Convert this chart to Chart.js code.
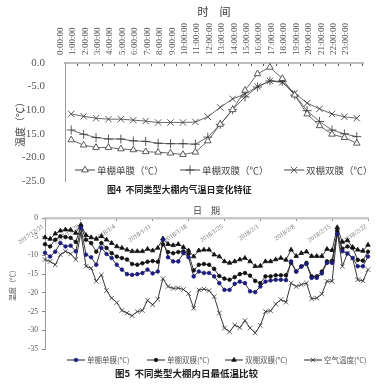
<!DOCTYPE html>
<html>
<head>
<meta charset="utf-8">
<script src="https://cdn.jsdelivr.net/npm/chart.js@4.4.1/dist/chart.umd.min.js"></script>
<style>
  body { margin: 0; background: #fff; }
  #wrap { position: relative; width: 377px; height: 392px; }
  canvas { position: absolute; left: 0; }
  .cap { position: absolute; font-family: 'Noto Sans CJK SC', sans-serif; font-weight: bold; color: #222; white-space: nowrap; line-height: 1; }
</style>
</head>
<body>
<div id="wrap">
  <canvas id="hourChart" width="377" height="200" style="top:0"></canvas>
  <canvas id="dayChart" width="377" height="192" style="top:200px"></canvas>
  <div class="cap" style="left:107px;top:185px;font-size:9px">图4&nbsp;&nbsp;不同类型大棚内气温日变化特征</div>
  <div class="cap" style="left:115px;top:369px;font-size:9.5px">图5&nbsp;&nbsp;不同类型大棚内日最低温比较</div>
</div>
<script>
// fig 4: hourly air temperature inside the greenhouses
const hours = ['0:00:00', '1:00:00', '2:00:00', '3:00:00', '4:00:00', '5:00:00', '6:00:00', '7:00:00',
  '8:00:00', '9:00:00', '10:00:00', '11:00:00', '12:00:00', '13:00:00', '14:00:00', '15:00:00',
  '16:00:00', '17:00:00', '18:00:00', '19:00:00', '20:00:00', '21:00:00', '22:00:00', '23:00:00'];
const singleSingleHour = [-16.3, -17.4, -17.9, -17.9, -18.2, -18.4, -18.8, -18.9, -19.1, -19.4, -18.9, -16.5,
  -13.0, -9.9, -5.8, -2.3, -0.9, -3.3, -6.8, -10.8, -13.3, -15.1, -15.8, -17.0];
const singleDoubleHour = [-14.2, -15.1, -15.8, -16.1, -16.1, -16.5, -16.6, -17.0, -17.1, -17.1, -17.2, -15.7,
  -13.0, -9.9, -7.2, -5.1, -3.8, -3.9, -6.8, -10.1, -12.4, -14.2, -15.0, -15.6];
const doubleDoubleHour = [-10.8, -11.3, -11.7, -11.9, -11.9, -12.1, -12.3, -12.6, -12.6, -12.6, -12.5, -11.4,
  -9.4, -7.6, -6.6, -5.0, -3.8, -4.1, -6.4, -8.5, -9.7, -10.8, -11.4, -11.7];

// fig 5: daily minimum temperature, 2017/12/21 .. 2018/2/22
const dateTicks = ['2017/12/21', '2017/12/28', '2018/1/4', '2018/1/11', '2018/1/18',
  '2018/1/25', '2018/2/1', '2018/2/8', '2018/2/15', '2018/2/22'];
const singleSingleDay = [-9.3, -10.3, -9.0, -6.7, -7.6, -7.4, -8.9, -2.7, -9.8, -10.5,
  -12.5, -8.0, -9.6, -10.7, -12.5, -13.8, -15.0, -15.2, -15.0, -14.7,
  -13.8, -14.8, -14.3, -5.8, -10.5, -11.6, -11.6, -9.4, -10.5, -15.6,
  -14.3, -14.7, -14.7, -15.6, -17.4, -19.2, -19.2, -17.6, -17.0, -17.4,
  -19.6, -19.8, -18.3, -17.0, -16.7, -16.5, -16.5, -16.6, -11.6, -14.3,
  -13.0, -12.3, -16.0, -16.0, -14.8, -12.0, -12.0, -4.3, -8.9, -9.5,
  -10.7, -12.9, -12.9, -10.3];
const singleDoubleDay = [-7.0, -7.6, -5.8, -4.9, -5.1, -5.3, -6.4, -2.2, -5.8, -6.7,
  -9.0, -6.7, -8.0, -9.4, -10.3, -10.7, -11.1, -12.3, -12.5, -12.1,
  -11.7, -11.5, -11.7, -7.0, -9.1, -9.4, -9.1, -8.9, -9.6, -14.0,
  -12.5, -12.3, -12.5, -13.6, -15.5, -16.2, -16.5, -15.8, -15.0, -14.7,
  -15.4, -16.8, -17.4, -15.6, -15.6, -15.3, -15.3, -15.3, -12.0, -14.3,
  -12.9, -12.0, -15.6, -15.6, -14.3, -11.6, -11.4, -3.5, -8.2, -7.6,
  -8.0, -11.2, -11.4, -9.0];
const doubleDoubleDay = [-5.2, -5.6, -4.2, -3.4, -3.1, -3.2, -4.0, -1.8, -4.6, -5.2,
  -5.6, -4.9, -5.8, -6.7, -7.6, -8.0, -8.5, -8.9, -8.9, -8.9,
  -8.3, -8.7, -8.0, -5.5, -7.0, -7.3, -7.0, -7.8, -8.7, -10.3,
  -8.7, -8.5, -8.5, -9.8, -10.3, -11.6, -12.0, -11.6, -11.1, -10.7,
  -11.6, -12.9, -12.8, -11.6, -11.6, -11.1, -10.7, -11.2, -8.5, -10.2,
  -9.4, -9.0, -10.2, -10.2, -10.2, -8.3, -8.6, -2.5, -6.4, -6.0,
  -7.8, -8.5, -8.8, -7.2];
const airDay = [-11.1, -11.6, -12.5, -9.8, -8.9, -9.6, -11.1, -4.0, -12.9, -13.4,
  -16.9, -15.2, -19.4, -21.4, -22.6, -24.7, -25.4, -26.1, -25.0, -24.7,
  -22.0, -23.2, -21.7, -16.2, -18.3, -18.8, -18.7, -19.1, -20.2, -24.1,
  -19.2, -19.0, -19.4, -21.0, -25.4, -29.4, -30.4, -28.6, -29.3, -27.4,
  -29.4, -30.7, -28.7, -25.0, -24.8, -23.0, -21.8, -22.5, -17.4, -18.3,
  -17.8, -17.4, -21.6, -21.4, -20.3, -16.9, -16.9, -3.6, -12.9, -9.4,
  -10.7, -16.5, -16.8, -13.8];

const dayLabels = [];
for (let d = new Date(2017, 11, 21); dayLabels.length < airDay.length; d.setDate(d.getDate() + 1)) {
  dayLabels.push(d.getFullYear() + '/' + (d.getMonth() + 1) + '/' + d.getDate());
}

const serif = "'Liberation Serif', 'Noto Sans CJK SC', serif";
const cjk = "'Noto Sans CJK SC', sans-serif";

// legend drawn inside the chart area, like the original figures
const inLegend = {
  id: 'inLegend',
  afterDraw(chart, args, opts) {
    const ctx = chart.ctx;
    ctx.save();
    ctx.textBaseline = 'middle';
    chart.data.datasets.forEach((ds, i) => {
      const x = opts.xs[i], y = opts.y;
      ctx.strokeStyle = ds.borderColor;
      ctx.lineWidth = 1;
      ctx.beginPath();
      ctx.moveTo(x, y);
      ctx.lineTo(x + opts.lineLen, y);
      ctx.stroke();
      ctx.fillStyle = ds.pointBackgroundColor;
      ctx.strokeStyle = ds.pointBorderColor;
      ctx.lineWidth = ds.pointBorderWidth;
      Chart.helpers.drawPoint(ctx, { pointStyle: ds.pointStyle, radius: ds.pointRadius, rotation: 0, borderWidth: ds.pointBorderWidth },
        x + opts.lineLen / 2, y);
      ctx.font = opts.font;
      ctx.fillStyle = opts.color;
      ctx.fillText(ds.label, x + opts.lineLen + 2, y);
    });
    ctx.restore();
  }
};

// slanted date labels sitting under the top axis line
const dateLabels = {
  id: 'dateLabels',
  beforeDatasetsDraw(chart) {
    const ctx = chart.ctx, xs = chart.scales.x;
    ctx.save();
    ctx.font = '6.5px ' + serif;
    ctx.fillStyle = '#777';
    ctx.textAlign = 'right';
    ctx.textBaseline = 'middle';
    dateTicks.forEach(t => {
      const px = xs.getPixelForValue(dayLabels.indexOf(t));
      ctx.save();
      ctx.translate(px - 2, xs.bottom + 8);
      ctx.rotate(-35 * Math.PI / 180);
      ctx.fillText(t, 0, 0);
      ctx.restore();
    });
    ctx.restore();
  }
};

function hourSet(label, data, style, radius) {
  return {
    label: label, data: data, borderColor: '#444', borderWidth: 0.8, tension: 0, clip: false,
    pointStyle: style, pointRadius: radius, pointBackgroundColor: '#fff',
    pointBorderColor: '#333', pointBorderWidth: 0.8
  };
}

new Chart(document.getElementById('hourChart'), {
  type: 'line',
  data: {
    labels: hours,
    datasets: [
      hourSet('单棚单膜（℃）', singleSingleHour, 'triangle', 3.8),
      hourSet('单棚双膜（℃）', singleDoubleHour, 'cross', 4.5),
      hourSet('双棚双膜（℃）', doubleDoubleHour, 'crossRot', 4.5)
    ]
  },
  options: {
    responsive: false,
    animation: false,
    devicePixelRatio: 1,
    layout: { padding: { left: 0, right: 14, top: 0, bottom: 19 } },
    plugins: {
      legend: { display: false },
      tooltip: { enabled: false },
      inLegend: { y: 170, xs: [75, 180, 284], lineLen: 20, font: '9.5px ' + cjk, color: '#444' }
    },
    scales: {
      x: {
        type: 'category',
        position: 'top',
        offset: true,
        grid: { offset: true, drawOnChartArea: false, tickLength: -3, color: '#555' },
        border: { color: '#bbb', width: 2 },
        ticks: { autoSkip: false, minRotation: 90, maxRotation: 90, padding: 11, color: '#555', font: { size: 9, family: serif } },
        title: { display: true, text: '时　间', color: '#333', font: { size: 11, family: cjk }, padding: { top: 5, bottom: 0 } },
        afterFit: s => { s.height = 63; }
      },
      y: {
        min: -25,
        max: 0,
        grid: { display: false },
        border: { color: '#999', width: 1 },
        ticks: { stepSize: 5, padding: 12, color: '#555', font: { size: 11, family: serif }, callback: v => v.toFixed(1) },
        title: { display: true, text: '温度（℃）', color: '#444', font: { size: 10, family: cjk }, padding: { top: 14, bottom: 0 } },
        afterFit: s => { s.width = 65; }
      }
    }
  },
  plugins: [inLegend]
});

function daySet(label, data, style, radius, fill) {
  return {
    label: label, data: data, borderColor: '#222', borderWidth: 0.9, tension: 0, clip: false,
    pointStyle: style, pointRadius: radius, pointBackgroundColor: fill,
    pointBorderColor: fill, pointBorderWidth: 0.8
  };
}

new Chart(document.getElementById('dayChart'), {
  type: 'line',
  data: {
    labels: dayLabels,
    datasets: [
      daySet('单棚单膜(°C)', singleSingleDay, 'circle', 1.8, '#1c1c80'),
      daySet('单棚双膜(°C)', singleDoubleDay, 'circle', 1.8, '#111'),
      daySet('双棚双膜(°C)', doubleDoubleDay, 'triangle', 2.6, '#111'),
      daySet('空气温度(°C)', airDay, 'crossRot', 3.2, '#333')
    ]
  },
  options: {
    responsive: false,
    animation: false,
    devicePixelRatio: 1,
    layout: { padding: { left: 0, right: 9, top: 0, bottom: 43 } },
    plugins: {
      legend: { display: false },
      tooltip: { enabled: false },
      inLegend: { y: 160, xs: [67, 147, 225, 304], lineLen: 18, font: '7.5px ' + cjk, color: '#555' }
    },
    scales: {
      x: {
        type: 'category',
        position: 'top',
        offset: false,
        ticks: { display: false, autoSkip: false },
        grid: { drawOnChartArea: false, tickLength: -3, color: c => c.index % 7 === 0 ? '#888' : 'rgba(0,0,0,0)' },
        border: { color: '#c8c8c8', width: 2.5 },
        title: { display: true, text: '日　期', color: '#444', font: { size: 9, family: cjk }, padding: { top: 5, bottom: 0 } },
        afterFit: s => { s.height = 18; }
      },
      y: {
        min: -35,
        max: 0,
        grid: { drawOnChartArea: false, tickLength: 3, color: '#888' },
        border: { color: '#999', width: 1 },
        ticks: { stepSize: 5, padding: 4, color: '#555', font: { size: 7.5, family: serif } },
        title: { display: true, text: '温度（℃）', color: '#555', font: { size: 7, family: cjk }, padding: { top: 8, bottom: 0 } },
        afterFit: s => { s.width = 45; }
      }
    }
  },
  plugins: [inLegend, dateLabels]
});
</script>
</body>
</html>
